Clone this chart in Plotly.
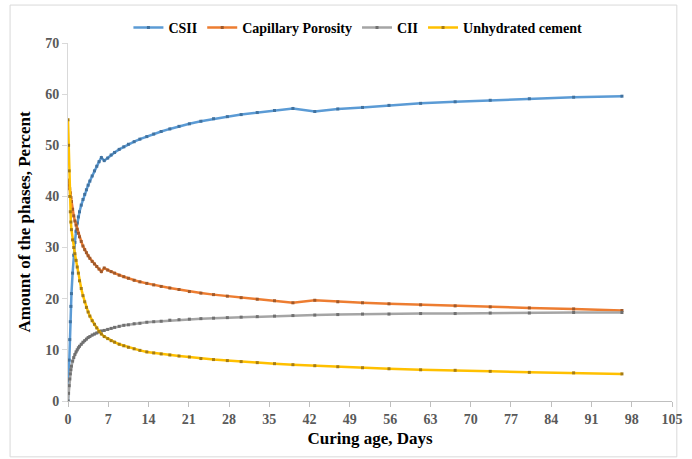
import plotly.graph_objects as go

days = [0, 0.1, 0.2, 0.3, 0.4, 0.5, 0.6, 0.8, 1.0, 1.2, 1.4, 1.6, 1.8, 2.0, 2.3, 2.6, 2.9,
        3.2, 3.5, 3.8, 4.2, 4.6, 5.0, 5.4, 5.8, 6.3, 6.9, 7.5, 8.1, 8.9, 9.7, 10.5, 11.5,
        12.5, 13.7, 14.9, 16.2, 17.7, 19.3, 21.1, 23.1, 25.3, 27.7, 30.1, 32.9, 35.9, 39.1,
        42.9, 46.9, 51.2, 55.8, 61.3, 67.3, 73.4, 80.2, 87.9, 96.3]

csh = [0, 4, 8, 12, 15.5, 18.5, 21, 25, 28.5, 31, 33.2, 34.8, 36, 37, 38.3, 39.4, 40.4,
       41.3, 42.2, 43, 44, 45, 45.9, 46.8, 47.6, 47.0, 47.5, 48.1, 48.6, 49.2, 49.7, 50.2, 50.7,
       51.2, 51.7, 52.2, 52.7, 53.2, 53.7, 54.2, 54.7, 55.2, 55.6, 56.0, 56.4, 56.8, 57.2,
       56.6, 57.1, 57.4, 57.8, 58.2, 58.5, 58.8, 59.1, 59.4, 59.6]

cap_porosity = [43.2, 42.8, 42.2, 41.5, 40.7, 39.8, 39.0, 37.5, 36.2, 35.2, 34.4, 33.6, 32.8, 32.1, 31.2, 30.3, 29.6,
                29.0, 28.4, 27.9, 27.3, 26.8, 26.3, 25.8, 25.3, 26.0, 25.6, 25.3, 25.0, 24.6, 24.3, 24.0, 23.6,
                23.3, 23.0, 22.7, 22.4, 22.1, 21.8, 21.4, 21.1, 20.8, 20.5, 20.2, 19.9, 19.6, 19.2,
                19.7, 19.4, 19.2, 19.0, 18.8, 18.6, 18.4, 18.2, 18.0, 17.7]

ch = [0, 1.5, 3, 4.3, 5.3, 6.1, 6.8, 7.8, 8.5, 9.1, 9.6, 10.0, 10.4, 10.7, 11.1, 11.5, 11.8,
      12.1, 12.4, 12.6, 12.9, 13.1, 13.3, 13.5, 13.7, 13.8, 14.0, 14.2, 14.4, 14.6, 14.8, 14.9, 15.1,
      15.2, 15.4, 15.5, 15.6, 15.8, 15.9, 16.0, 16.1, 16.2, 16.3, 16.4, 16.5, 16.6, 16.7,
      16.8, 16.9, 17.0, 17.0, 17.1, 17.1, 17.2, 17.2, 17.3, 17.3]

unhydrated = [55, 50, 45, 40, 37, 35, 33.5, 31.5, 30, 28.8, 27.5, 26.2, 25, 23.5, 22, 20.6, 19.4,
              18.3, 17.4, 16.6, 15.7, 15.0, 14.3, 13.6, 13.1, 12.6, 12.2, 11.8, 11.5, 11.1, 10.8, 10.5, 10.2,
              9.9, 9.6, 9.4, 9.2, 9.0, 8.8, 8.6, 8.3, 8.1, 7.9, 7.7, 7.5, 7.3, 7.1,
              6.9, 6.7, 6.5, 6.3, 6.1, 6.0, 5.8, 5.6, 5.5, 5.3]

legend_labels = ["CSII", "Capillary Porosity", "CII", "Unhydrated cement"]
x_ticks = list(range(0, 106, 7))
y_ticks = list(range(0, 71, 10))

line_colors = ["#5B9BD5", "#ED7D31", "#A5A5A5", "#FFC000"]
marker_colors = ["#41729F", "#A0592A", "#707070", "#A67C12"]

serif = "Liberation Serif"

fig = go.Figure()
for name, vals, lc, mc in zip(legend_labels, [csh, cap_porosity, ch, unhydrated], line_colors, marker_colors):
    fig.add_trace(go.Scatter(
        x=days, y=vals, name=name, mode="lines+markers",
        line=dict(color=lc, width=2.5),
        marker=dict(color=mc, size=3, symbol="square"),
    ))

fig.update_layout(
    width=692, height=459,
    margin=dict(l=68, r=9, t=43, b=58),
    paper_bgcolor="white", plot_bgcolor="white",
    font=dict(family=serif, color="black"),
    showlegend=True,
    legend=dict(orientation="h", x=0.48, xanchor="center", y=1.042, yanchor="middle",
                font=dict(family=serif, size=14, color="black", weight="bold"),
                itemwidth=30, tracegroupgap=0, bgcolor="rgba(0,0,0,0)"),
    xaxis=dict(range=[0, 105], tickvals=x_ticks, ticktext=[str(v) for v in x_ticks],
               showgrid=False, zeroline=False, showline=True, linecolor="#BFBFBF", linewidth=1,
               ticks="outside", ticklen=5, tickcolor="#BFBFBF", ticklabeloverflow="allow",
               tickfont=dict(family=serif, size=14, color="#595959", weight="bold"),
               title=dict(text="Curing age, Days", standoff=6,
                          font=dict(family=serif, size=17, color="black", weight="bold"))),
    yaxis=dict(range=[0, 70], tickvals=y_ticks, ticktext=[str(v) for v in y_ticks],
               showgrid=False, zeroline=False, showline=True, linecolor="#D9D9D9", linewidth=1,
               ticks="outside", ticklen=5, tickcolor="#D9D9D9",
               tickfont=dict(family=serif, size=14, color="#595959", weight="bold"),
               title=dict(text="Amount of the phases, Percent", standoff=10,
                          font=dict(family=serif, size=17, color="black", weight="bold"))),
    shapes=[dict(type="rect", xref="paper", yref="paper",
                 x0=-0.0959, x1=1.008, y0=-0.156, y1=1.106,
                 line=dict(color="#D9D9D9", width=1), fillcolor="rgba(0,0,0,0)", layer="below")],
)

fig.write_html("out.html")
